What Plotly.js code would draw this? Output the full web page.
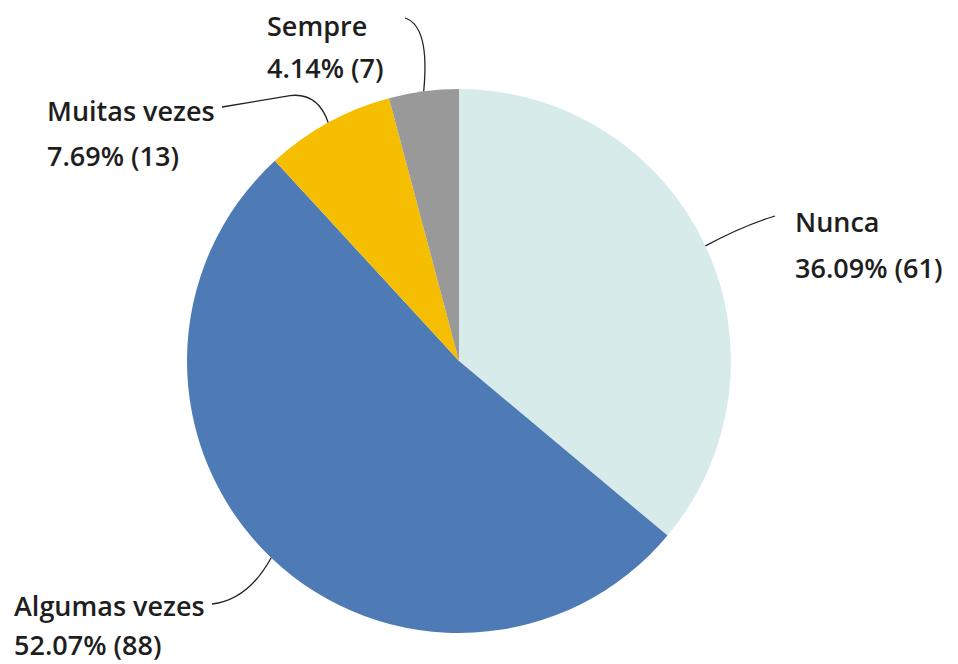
<!DOCTYPE html>
<html><head><meta charset="utf-8">
<script src="https://cdn.plot.ly/plotly-3.0.1.min.js"></script>
<style>body{margin:0;background:#fff}#c{width:958px;height:664px}</style>
</head><body><div id="c"></div>
<script>
const categories = ["Nunca", "Algumas vezes", "Muitas vezes", "Sempre"];
const counts = [61, 88, 13, 7];
const percentLabels = ["36.09%", "52.07%", "7.69%", "4.14%"];
const colors = ["#d8ebeb", "#4e7ab5", "#f6be00", "#999999"];

const W = 958, H = 664;
const cx = 459, cy = 361, R = 272;
const total = counts.reduce((a, b) => a + b, 0);

// label placement (pixel positions of text, leader line endpoints)
const labelPos = [
  {x: 794, y1: 222, y2: 267, end: [775, 216], ctrl: [742, 226]},
  {x: 13,  y1: 605, y2: 644, end: [212, 604], ctrl: [248, 600]},
  {x: 46,  y1: 111, y2: 155, end: [222, 107], ctrl: null},
  {x: 266, y1: 25,  y2: 68,  end: [405, 18],  ctrl: [430, 26]}
];

const px = x => x / W, py = y => 1 - y / H;
const labelFont = {family: "Open Sans", size: 27, color: "#1e1e1e", weight: 600};

const annotations = [], shapes = [];
let cum = 0;
counts.forEach((v, i) => {
  const mid = (cum + v / 2) / total * 2 * Math.PI;
  cum += v;
  const tx = cx + R * Math.sin(mid), ty = cy - R * Math.cos(mid);
  const lp = labelPos[i];
  let path;
  if (i === 2) {
    path = `M${px(tx)},${py(ty)} Q${px(tx - 10)},${py(ty - 30)} ${px(tx - 38)},${py(ty - 27)} L${px(lp.end[0])},${py(lp.end[1])}`;
  } else {
    path = `M${px(tx)},${py(ty)} Q${px(lp.ctrl[0])},${py(lp.ctrl[1])} ${px(lp.end[0])},${py(lp.end[1])}`;
  }
  shapes.push({type: "path", xref: "paper", yref: "paper", path: path,
    line: {color: "#222", width: 1.3}});
  annotations.push({xref: "paper", yref: "paper", x: px(lp.x), y: py(lp.y1),
    xanchor: "left", yanchor: "middle", showarrow: false, text: categories[i],
    font: labelFont, borderpad: 0});
  annotations.push({xref: "paper", yref: "paper", x: px(lp.x), y: py(lp.y2),
    xanchor: "left", yanchor: "middle", showarrow: false,
    text: percentLabels[i] + " (" + v + ")",
    font: labelFont, borderpad: 0});
});

const data = [{
  type: "pie",
  labels: categories,
  values: counts,
  sort: false,
  direction: "clockwise",
  rotation: 0,
  textinfo: "none",
  hoverinfo: "label+percent+value",
  marker: {colors: colors, line: {width: 0}},
  domain: {x: [(cx - R) / W, (cx + R) / W], y: [(H - cy - R) / H, (H - cy + R) / H]},
  showlegend: false
}];

const layout = {
  width: W, height: H,
  margin: {l: 0, r: 0, t: 0, b: 0},
  paper_bgcolor: "#ffffff",
  showlegend: false,
  annotations: annotations,
  shapes: shapes
};
Plotly.newPlot("c", data, layout, {displayModeBar: false, staticPlot: true});
</script></body></html>
